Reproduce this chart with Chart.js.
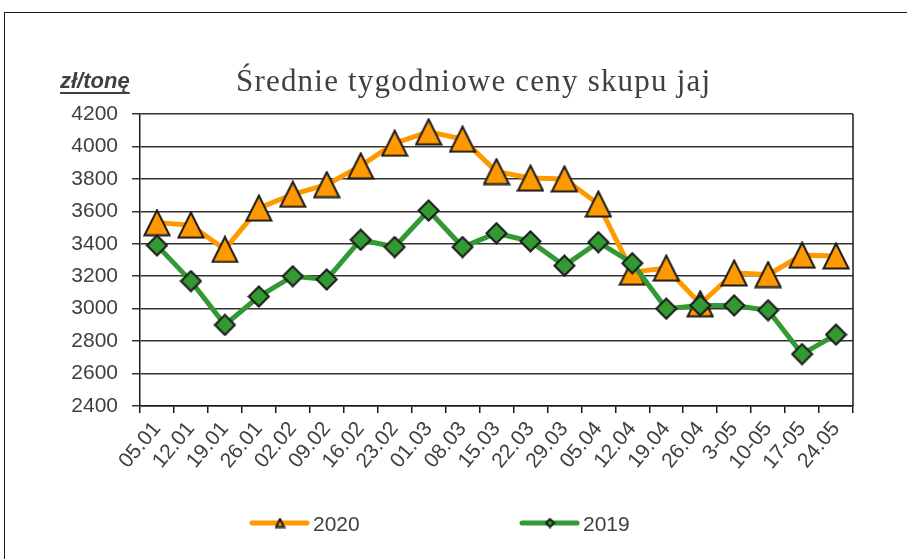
<!DOCTYPE html>
<html>
<head>
<meta charset="utf-8">
<script src="https://cdn.jsdelivr.net/npm/chart.js@4.4.1/dist/chart.umd.min.js"></script>
<style>
  html, body { margin: 0; padding: 0; background: #fff; }
  #wrap { position: relative; width: 907px; height: 559px; overflow: hidden; }
  #frame { position: absolute; left: 4px; top: 12px; width: 950px; height: 600px; border: 1.5px solid #1a1a1a; }
  canvas { position: absolute; left: 0; top: 0; }
</style>
</head>
<body>
<div id="wrap">
  <div id="frame"></div>
  <canvas id="chart" width="907" height="559"></canvas>
</div>
<script>
const weeks = ['05.01', '12.01', '19.01', '26.01', '02.02', '09.02', '16.02', '23.02', '01.03', '08.03', '15.03',
  '22.03', '29.03', '05.04', '12.04', '19.04', '26.04', '3-05', '10-05', '17-05', '24.05'];
const prices2020 = [3530, 3515, 3365, 3620, 3705, 3765, 3880, 4020, 4090, 4045, 3845,
  3805, 3800, 3645, 3225, 3250, 3030, 3220, 3210, 3330, 3325];
const prices2019 = [3390, 3170, 2900, 3075, 3200, 3180, 3425, 3380, 3605, 3380, 3465,
  3415, 3265, 3410, 3280, 3000, 3020, 3020, 2990, 2720, 2840];
const yTicks = [2400, 2600, 2800, 3000, 3200, 3400, 3600, 3800, 4000, 4200];

const titleText = 'Średnie tygodniowe ceny skupu jaj';
const unitText = 'zł/tonę';
const textColor = '#404040';

// Excel style triangle: centred on its bounding box, not on the circumcircle
function triangleMarker(size, fill) {
    const c = document.createElement('canvas');
    c.width = size;
    c.height = size;
    const g = c.getContext('2d');
    const m = 1.5;
    g.beginPath();
    g.moveTo(size / 2, m);
    g.lineTo(size - m, size - m);
    g.lineTo(m, size - m);
    g.closePath();
    g.fillStyle = fill;
    g.fill();
    g.lineJoin = 'miter';
    g.lineWidth = 2;
    g.strokeStyle = '#1a1a1a';
    g.stroke();
    return c;
}

function diamondMarker(size, fill) {
    const c = document.createElement('canvas');
    c.width = size;
    c.height = size;
    const g = c.getContext('2d');
    const m = 1.5;
    g.beginPath();
    g.moveTo(size / 2, m);
    g.lineTo(size - m, size / 2);
    g.lineTo(size / 2, size - m);
    g.lineTo(m, size / 2);
    g.closePath();
    g.fillStyle = fill;
    g.fill();
    g.lineWidth = 2;
    g.strokeStyle = '#1a1a1a';
    g.stroke();
    return c;
}

// title, unit label, right side of the plot frame and the legend at the bottom
const decorations = {
    id: 'decorations',
    afterDraw(chart) {
        const ctx = chart.ctx;
        const area = chart.chartArea;
        ctx.save();

        ctx.strokeStyle = '#1a1a1a';
        ctx.lineWidth = 1.5;
        ctx.beginPath();
        ctx.moveTo(area.right, area.top);
        ctx.lineTo(area.right, area.bottom);
        ctx.stroke();

        ctx.fillStyle = textColor;
        ctx.textBaseline = 'alphabetic';
        ctx.textAlign = 'left';
        ctx.font = '31px "Liberation Serif"';
        ctx.letterSpacing = '1.2px';
        ctx.fillText(titleText, 236, 91);
        ctx.letterSpacing = '0px';

        ctx.font = 'italic bold 22px "Liberation Sans"';
        ctx.fillText(unitText, 60, 88);
        const w = ctx.measureText(unitText).width;
        ctx.fillRect(60, 92, w, 2);

        const starts = [252, 522];
        chart.data.datasets.forEach((ds, i) => {
            const x = starts[i];
            const y = 523;
            ctx.strokeStyle = ds.borderColor;
            ctx.lineWidth = 5;
            ctx.lineCap = 'round';
            ctx.beginPath();
            ctx.moveTo(x, y);
            ctx.lineTo(x + 55, y);
            ctx.stroke();

            const mark = ds.legendMarker;
            ctx.drawImage(mark, x + 28 - mark.width / 2, y - mark.height / 2);

            ctx.fillStyle = textColor;
            ctx.font = '21px "Liberation Sans"';
            ctx.fillText(ds.label, x + 61, y + 8);
        });
        ctx.restore();
    }
};

new Chart(document.getElementById('chart'), {
    type: 'line',
    data: {
        labels: weeks,
        datasets: [
            {
                label: '2020',
                data: prices2020,
                order: 1,
                borderColor: '#ff9900',
                borderWidth: 5,
                pointStyle: triangleMarker(28, '#ff9900'),
                pointRadius: 14,
                legendMarker: triangleMarker(11, '#ff9900'),
                tension: 0
            },
            {
                label: '2019',
                data: prices2019,
                order: 0,
                borderColor: '#339933',
                borderWidth: 5,
                pointStyle: diamondMarker(23, '#339933'),
                pointRadius: 11,
                legendMarker: diamondMarker(11, '#339933'),
                tension: 0
            }
        ]
    },
    options: {
        responsive: false,
        animation: false,
        layout: { padding: { left: 0, top: 114, right: 54, bottom: 53 } },
        plugins: {
            legend: { display: false },
            title: { display: false },
            tooltip: { enabled: false }
        },
        scales: {
            x: {
                offset: true,
                afterFit: (scale) => { scale.height = 100; },
                grid: { drawOnChartArea: false, offset: true, drawTicks: true, tickLength: 7, color: '#1a1a1a', lineWidth: 1.5 },
                border: { display: true, color: '#1a1a1a', width: 1.5 },
                ticks: {
                    color: textColor,
                    font: { family: 'Liberation Sans', size: 21 },
                    minRotation: 50,
                    maxRotation: 50,
                    autoSkip: false,
                    padding: 4
                }
            },
            y: {
                min: 2400,
                max: 4200,
                afterFit: (scale) => { scale.width = 140; },
                afterBuildTicks: (scale) => { scale.ticks = yTicks.map(v => ({ value: v })); },
                grid: { color: '#333', lineWidth: 1.5, drawTicks: true, tickLength: 8 },
                border: { display: true, color: '#1a1a1a', width: 1.5 },
                ticks: {
                    color: textColor,
                    font: { family: 'Liberation Sans', size: 21 },
                    padding: 14,
                    callback: (value) => String(value)
                }
            }
        }
    },
    plugins: [decorations]
});
</script>
</body>
</html>
